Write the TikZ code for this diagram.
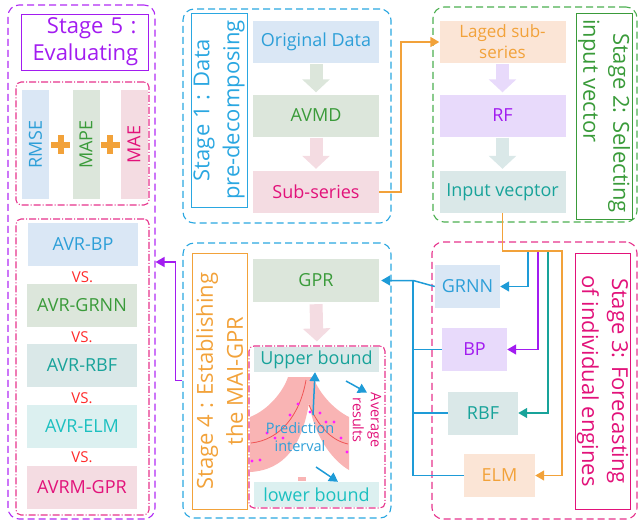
\documentclass[tikz,border=0pt]{standalone}
\usepackage{fontspec}
\setmainfont{Open Sans}
\usetikzlibrary{arrows.meta,calc}

\definecolor{lblue}{HTML}{DAE7F5}
\definecolor{cblue}{HTML}{2D9FD8}
\definecolor{lgreen}{HTML}{DCE6DB}
\definecolor{cgreen}{HTML}{3A9B3A}
\definecolor{lpink}{HTML}{F4DCE2}
\definecolor{cmagenta}{HTML}{E2127A}
\definecolor{lorange}{HTML}{FBE5D6}
\definecolor{corange}{HTML}{F2A23A}
\definecolor{lpurple}{HTML}{E8DAFB}
\definecolor{cpurple}{HTML}{A21CF0}
\definecolor{lteal}{HTML}{DAE8E8}
\definecolor{cteal}{HTML}{18A39A}
\definecolor{lcyan}{HTML}{DCF0F0}
\definecolor{ccyan}{HTML}{1CC0C0}
\definecolor{vsred}{HTML}{FF2A2A}
\definecolor{fblue}{HTML}{2AA7E1}
\definecolor{fgreen}{HTML}{4CAF50}
\definecolor{fmagenta}{HTML}{E6338C}
\definecolor{fpurple}{HTML}{B02BF5}
\definecolor{linkblue}{HTML}{1E9BD7}
\definecolor{band}{HTML}{F9B4B4}
\definecolor{bandline}{HTML}{F05555}
\definecolor{dot}{HTML}{FF1EFF}

\begin{document}
\begin{tikzpicture}[x=1pt,y=-1pt,
    box/.style={minimum width=126pt,minimum height=42pt,inner sep=0pt,align=center,font=\fontsize{18}{21}\selectfont},
    eng/.style={box,minimum width=65pt,minimum height=43pt},
    avr/.style={box,minimum width=110pt,minimum height=43pt},
    metric/.style={box,rotate=90,minimum width=109pt,minimum height=27pt},
    stageframe/.style={draw,dash pattern=on 7pt off 4pt,rounded corners=11pt,line width=1.1pt,inner sep=0pt},
    subframe/.style={draw,dash pattern=on 7pt off 2pt on 1pt off 2pt,rounded corners=5pt,line width=1.1pt,inner sep=0pt},
    stagebox/.style={draw,line width=1pt,inner sep=0pt,align=center,font=\fontsize{22}{30}\selectfont},
    flow/.style={line width=13pt,-{Triangle[length=13pt,width=27pt]},shorten <=1pt,shorten >=2pt},
    link/.style={line width=1.5pt,-{Triangle[length=9pt,width=10pt]}},
    plain/.style={line width=1.5pt},
    plus/.style={line width=6pt,draw=corange},
    vs/.style={text=vsred,inner sep=0pt,font=\fontsize{15}{18}\selectfont},
    small/.style={inner sep=0pt,align=center,font=\fontsize{14.5}{18}\selectfont}]

\useasboundingbox (0,0) rectangle (639,523);

% stage 5
\node[stageframe,draw=fpurple,minimum width=147pt,minimum height=514pt] (sfive) at (81.5,262) {};
\node[stagebox,draw=cpurple,text=cpurple,minimum width=127pt,minimum height=56pt,text width=104pt,align=right,font=\fontsize{22}{27}\selectfont] (sfivetitle) at (84.5,42) {Stage 5 :\\Evaluating};
\node[subframe,draw=fmagenta,minimum width=133pt,minimum height=123pt] (metrics) at (82.5,143.5) {};
\node[metric,fill=lblue,text=cblue] (rmse) at (35.5,144.5) {RMSE};
\node[metric,fill=lgreen,text=cgreen] (mape) at (86,144.5) {MAPE};
\node[metric,fill=lpink,text=cmagenta] (mae) at (134,144.5) {MAE};
\foreach \a/\b in {rmse/mape,mape/mae}
    \draw[plus] ($(\a)!0.5!(\b)$) ++(-9.5,0) -- ++(19,0) ++(-9.5,-9.5) -- ++(0,19);

\node[subframe,draw=fmagenta,minimum width=133pt,minimum height=296pt] (compare) at (82.5,367) {};
\node[avr,fill=lblue,text=cblue] (avrbp) at (83,244.5) {AVR-BP};
\node[avr,fill=lgreen,text=cgreen] (avrgrnn) at (82,305.5) {AVR-GRNN};
\node[avr,fill=lteal,text=cteal] (avrrbf) at (82,365.5) {AVR-RBF};
\node[avr,fill=lcyan,text=ccyan] (avrelm) at (82,426.5) {AVR-ELM};
\node[avr,fill=lpink,text=cmagenta] (avrmgpr) at (82,487) {AVRM-GPR};
\node[vs,yshift=-2pt] (vsa) at ($(avrbp)!0.5!(avrgrnn)$) {VS.};
\node[vs,yshift=-2pt] (vsb) at ($(avrgrnn)!0.5!(avrrbf)$) {VS.};
\node[vs,yshift=-2pt] (vsc) at ($(avrrbf)!0.5!(avrelm)$) {VS.};
\node[vs] (vsd) at ($(avrelm)!0.5!(avrmgpr)$) {VS.};

% stage 1
\node[stageframe,draw=fblue,minimum width=208pt,minimum height=214pt] (sone) at (287,116) {};
\node[stagebox,draw=fblue,text=fblue,rotate=90,minimum width=194pt,minimum height=56pt] (sonetitle) at (219,110) {Stage 1 : Data\\pre-decomposing};
\node[box,fill=lblue,text=cblue] (orig) at (316,42) {Original Data};
\node[box,fill=lgreen,text=cgreen] (avmd) at (316,115.5) {AVMD};
\node[box,fill=lpink,text=cmagenta] (subser) at (316,192) {Sub-series};
\draw[flow,lgreen] (orig.south) -- (avmd.north);
\draw[flow,lpink] (avmd.south) -- (subser.north);

% stage 2
\node[stageframe,draw=fgreen,minimum width=204pt,minimum height=215pt] (stwo) at (535,114.5) {};
\node[stagebox,draw=cgreen,text=cgreen,rotate=-90,minimum width=206pt,minimum height=56pt,align=left] (stwotitle) at (604,116) {\hspace*{14pt}Stage 2: Selecting\\input vector};
\node[box,fill=lorange,text=corange,font=\fontsize{17}{21}\selectfont] (laged) at (502.5,42) {Laged sub-\\series};
\node[box,fill=lpurple,text=cpurple] (rf) at (502.5,115.5) {RF};
\node[box,fill=lteal,text=cteal] (invec) at (502.5,192) {Input vecptor};
\draw[flow,lpurple] (laged.south) -- (rf.north);
\draw[flow,lteal] (rf.south) -- (invec.north);
\draw[link,corange] (subser.east) -- ++(22,0) |- (laged.west);

% stage 3
\node[stageframe,draw=fmagenta,minimum width=205pt,minimum height=277pt] (sthree) at (534.5,380.5) {};
\node[stagebox,draw=cmagenta,text=cmagenta,rotate=-90,minimum width=256pt,minimum height=55pt] (sthreetitle) at (602.5,381) {Stage 3: Forecasting\\of individual engines};
\node[eng,fill=lblue,text=cblue] (grnn) at (467.5,286.5) {GRNN};
\node[eng,fill=lpurple,text=cpurple] (bp) at (474.5,349.5) {BP};
\node[eng,fill=lteal,text=cteal,minimum width=70pt] (rbf) at (483,413) {RBF};
\node[eng,fill=lorange,text=corange,minimum width=71pt] (elm) at (499.5,475.5) {ELM};
\draw[link,linkblue] (invec.south) |- ++(25.5,38) |- (grnn.east);
\draw[link,cpurple] (invec.south) |- ++(35.5,38) |- (bp.east);
\draw[link,cteal] (invec.south) |- ++(45.5,38) |- (rbf.east);
\draw[link,corange] (invec.south) |- ++(59.5,38) |- (elm.east);

% stage 4
\node[stageframe,draw=fblue,minimum width=208pt,minimum height=275pt] (sfour) at (287,380.5) {};
\node[stagebox,draw=corange,text=corange,rotate=90,minimum width=256pt,minimum height=55pt] (sfourtitle) at (219.5,381) {Stage 4 : Establishing\\the MAI-GPR};
\node[box,fill=lgreen,text=cgreen,minimum height=43pt] (gpr) at (316,280.5) {GPR};
\node[subframe,draw=fmagenta,minimum width=136pt,minimum height=162pt] (bounds) at (317,427) {};
\draw[flow,lpink,shorten <=2pt,shorten >=4pt] (gpr.south) -- (bounds.north);
\node[box,fill=lteal,text=cteal,minimum width=125pt,minimum height=25pt] (upper) at (316.5,359.5) {Upper bound};
\node[box,fill=lcyan,text=ccyan,minimum width=125pt,minimum height=25pt] (lower) at (316.5,494.5) {lower bound};

\fill[band] (288,377) .. controls (283,392) and (268,410) .. (250,417) -- (250,472)
    .. controls (285,470) and (302,445) .. (309,403) -- (309,377) -- cycle;
\fill[band] (309,377) -- (313,377) .. controls (320,395) and (335,410) .. (349,417) -- (349,470)
    .. controls (335,462) and (315,440) .. (309,403) -- cycle;
\draw[bandline,line width=0.8pt] (306,380) .. controls (300,415) and (280,440) .. (251,443);
\draw[bandline,line width=0.8pt] (309,405) .. controls (318,425) and (330,440) .. (348,444);
\foreach \p in {(298,404),(290,415),(267,433),(275,438),(283,438),(252,461),(260,460),(310,412),(320,413),(326,422),(334,422),(341,438),(347,452)}
    \fill[dot] \p circle (1.6pt);
\fill[band] (298,477) rectangle (306,481);

\node[small,text=cblue] (predint) at (300,437) {Prediction\\interval};
\node[small,text=cmagenta,rotate=-90] (avgres) at (367,420) {Average\\results};
\draw[link,linkblue] (predint.north -| 313,0) ++(0,-7) -- (upper.south -| 315,0);
\draw[link,linkblue] (346,381) -- (avgres.west);
\draw[link,linkblue] (316,467) -- (lower.north -| 338,0);

% connections to GPR and to stage 5
\draw[link,linkblue,shorten >=2pt] (grnn.west) -- ([xshift=34pt]gpr.east) -- (gpr.east);
\draw[plain,linkblue] (bp.west) -| ([xshift=34pt]gpr.east);
\draw[plain,linkblue] (rbf.west) -| ([xshift=34pt]gpr.east);
\draw[plain,linkblue] (elm.west) -| ([xshift=34pt]gpr.east);
\draw[link,cpurple] (sfour.west) -- ++(-7,0) |- (sfive.east);
\end{tikzpicture}
\end{document}
